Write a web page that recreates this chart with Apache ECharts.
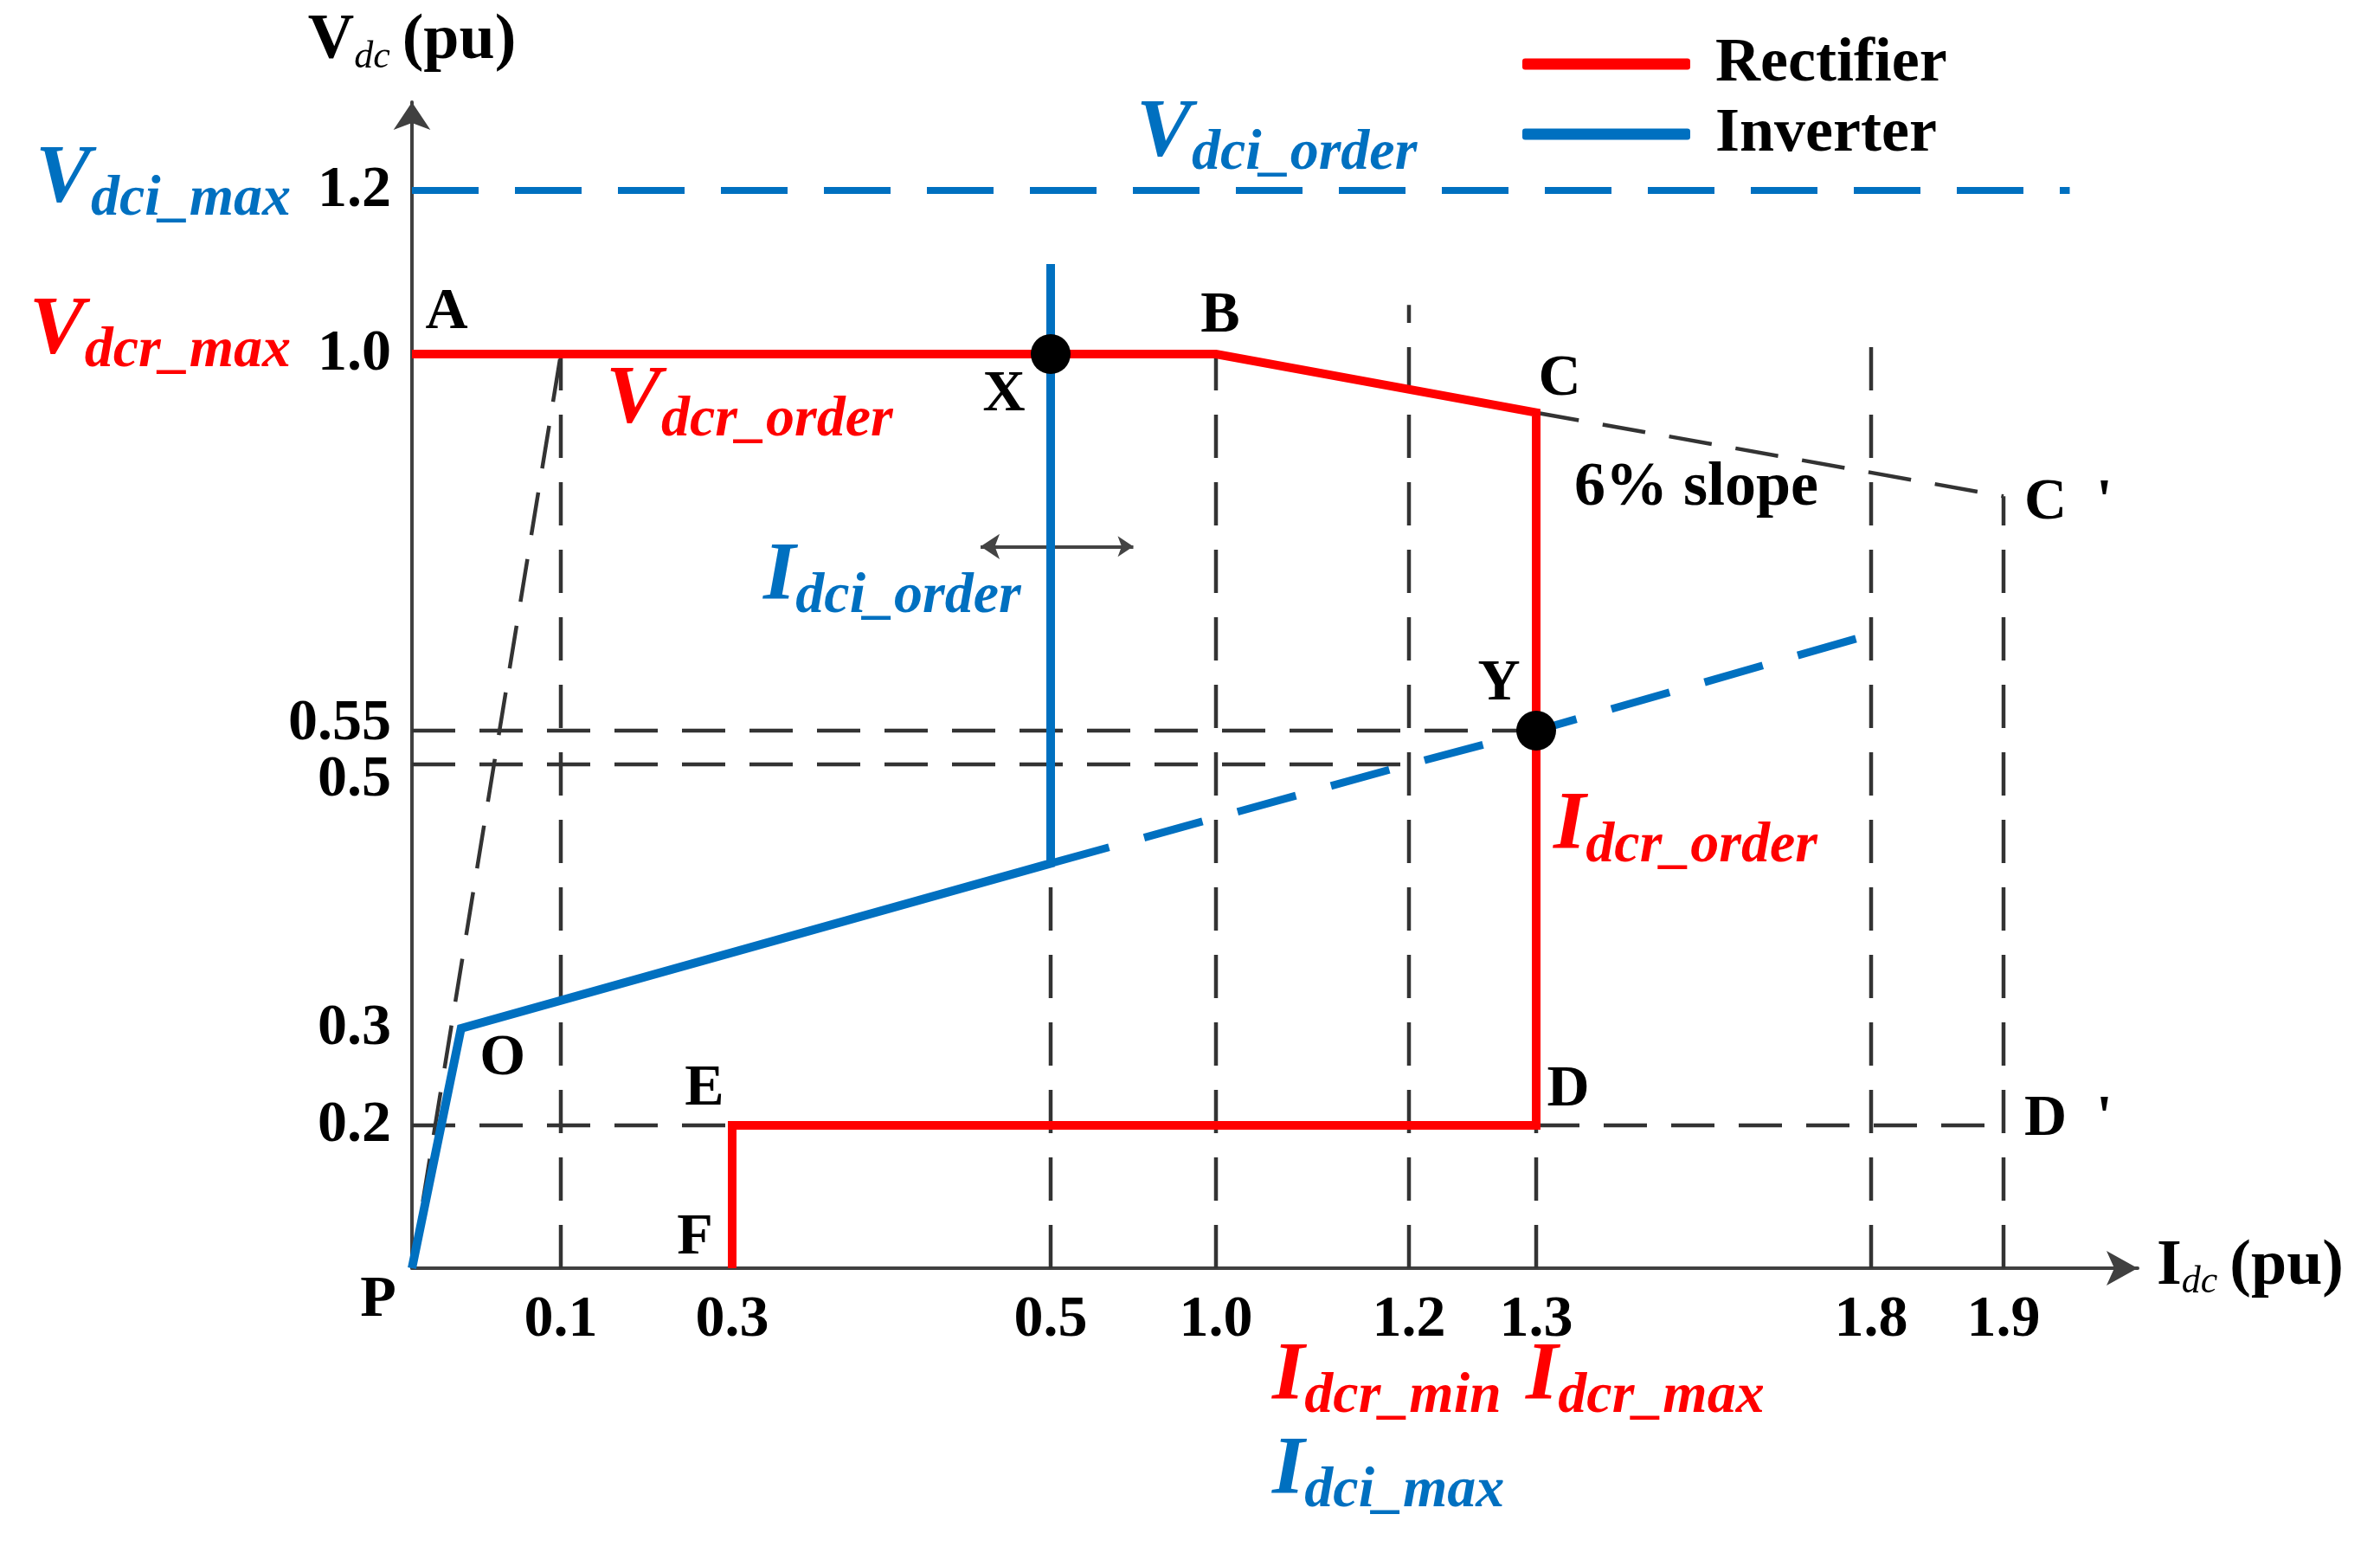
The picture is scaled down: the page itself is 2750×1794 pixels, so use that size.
<!DOCTYPE html>
<html>
<head>
<meta charset="utf-8">
<title>Vdc - Idc characteristic</title>
<script src="https://cdn.jsdelivr.net/npm/echarts@6.0.0/dist/echarts.min.js"></script>
<style>
    html, body { margin: 0; padding: 0; background: #fff; }
    #main { width: 2750px; height: 1794px; }
</style>
</head>
<body>
<div id="main"></div>
<script>
// ---- data (pu) ----
var idcTicks = [0, 0.1, 0.3, 0.5, 1.0, 1.2, 1.3, 1.8, 1.9];
var idcTickLabels = ['P', '0.1', '0.3', '0.5', '1.0', '1.2', '1.3', '1.8', '1.9'];
var vdcTicks = [0, 0.2, 0.3, 0.5, 0.55, 1.0, 1.2];
var vdcTickLabels = ['0', '0.2', '0.3', '0.5', '0.55', '1.0', '1.2'];

// rectifier A-B-C-D-E-F
var rectI = [0, 1.0, 1.3, 1.3, 0.3, 0.3];
var rectV = [1.0, 1.0, 0.93, 0.2, 0.2, 0];
// inverter P-O-knee-Idci_order
var invI = [0, 0.033, 0.5, 0.5];
var invV = [0, 0.3, 0.425, 1.11];
// inverter extension (dashed) through Y
var invDashI = [0.5, 1.2, 1.3, 1.8];
var invDashV = [0.425, 0.5, 0.55, 0.665];
// Vdci_max level
var vdciMaxI = [0, 1.95];
var vdciMaxV = [1.2, 1.2];

// black dashed guide lines [i1, v1, i2, v2]
var guides = [
    [0, 0, 0.1, 1.0],
    [0.1, 0, 0.1, 1.0],
    [0.5, 0, 0.5, 0.425],
    [1.0, 0, 1.0, 1.0],
    [1.2, 0, 1.2, 1.06],
    [1.3, 0, 1.3, 0.2],
    [1.8, 0, 1.8, 1.01],
    [1.9, 0, 1.9, 0.83],
    [0, 0.55, 1.3, 0.55],
    [0, 0.5, 1.2, 0.5],
    [0, 0.2, 0.3, 0.2],
    [1.3, 0.2, 1.9, 0.2],
    [1.3, 0.93, 1.9, 0.83]
];

// operating points X, Y
var opI = [0.5, 1.3];
var opV = [1.0, 0.55];

// point letters
var ptNames = ['A', 'B', 'C', 'C  \'', 'X', 'Y', 'O', 'E', 'F', 'D', 'D  \'', 'P', '6% slope'];
var ptI = [0, 1.0, 1.3, 1.9, 0.5, 1.3, 0.033, 0.3, 0.3, 1.3, 1.9, 0, 1.3];
var ptV = [1.0, 1.0, 0.93, 0.83, 1.0, 0.55, 0.3, 0.2, 0, 0.2, 0.2, 0, 0.93];

// ---- layout ----
// the drawing is not to scale: distance of each tick from the origin, px
var idcTickPos = [0, 172, 370, 738, 929, 1152, 1299, 1686, 1839];
var vdcTickPos = [0, 165, 277, 582, 621, 1056, 1245];

var FONT = '"Liberation Serif", "Times New Roman", serif';
var RED = '#ff0000';
var BLUE = '#0070c0';
var GREY = '#333333';

// label offsets from their anchor point, px [dx, dy, align]
var ptOffsets = [
    [40, -48, 'center'], [5, -44, 'center'], [27, -38, 'center'], [24, 8, 'left'],
    [-54, 47, 'center'], [-43, -54, 'center'], [48, 35, 'center'], [-32, -42, 'center'],
    [-43, -35, 'center'], [37, -41, 'center'], [24, -7, 'left'], [-39, 37, 'center'],
    [44, 88, 'left']
];

// subscripted names, anchored on a (pu) point
var notes = [
    { text: '{b|V}{s|dci_order}', color: BLUE, at: [0, 1.2], off: [837, -61], align: 'left' },
    { text: '{b|V}{s|dcr_order}', color: RED, at: [0.1, 1.0], off: [52, 58], align: 'left' },
    { text: '{b|I}{s|dci_order}', color: BLUE, at: [0.5, 1.0], off: [-332, 262], align: 'left' },
    { text: '{b|I}{s|dcr_order}', color: RED, at: [1.3, 0.55], off: [20, 115], align: 'left' },
    { text: '{b|I}{s|dcr_min}', color: RED, at: [1.2, 0], off: [-158, 130], align: 'left' },
    { text: '{b|I}{s|dcr_max}', color: RED, at: [1.3, 0], off: [-12, 130], align: 'left' },
    { text: '{b|I}{s|dci_max}', color: BLUE, at: [1.2, 0], off: [-158, 239], align: 'left' },
    { text: '{b|V}{s|dci_max}', color: BLUE, at: [0, 1.2], off: [-140, -8], align: 'right' },
    { text: '{b|V}{s|dcr_max}', color: RED, at: [0, 1.0], off: [-140, -22], align: 'right' }
];

// piecewise scale of the sketch
function toAxis(v, vals, pos) {
    var n = vals.length;
    for (var i = 0; i < n - 1; i++) {
        if (v <= vals[i + 1] || i == n - 2) {
            return pos[i] + (v - vals[i]) * (pos[i + 1] - pos[i]) / (vals[i + 1] - vals[i]);
        }
    }
}
function pt(i, v) {
    return [toAxis(i, idcTicks, idcTickPos), toAxis(v, vdcTicks, vdcTickPos)];
}
function path(iArr, vArr) {
    var out = [];
    for (var k = 0; k < iArr.length; k++) out.push(pt(iArr[k], vArr[k]));
    return out;
}

var richNote = {
    b: { fontFamily: FONT, fontSize: 96, fontStyle: 'italic', fontWeight: 'bold', verticalAlign: 'bottom', padding: [0, 0, 8, 0] },
    s: { fontFamily: FONT, fontSize: 66, fontStyle: 'italic', fontWeight: 'bold', verticalAlign: 'bottom' }
};

var series = [];

// dashed guides
for (var g = 0; g < guides.length; g++) {
    series.push({
        type: 'line',
        silent: true,
        symbol: 'none',
        z: 1,
        data: [pt(guides[g][0], guides[g][1]), pt(guides[g][2], guides[g][3])],
        lineStyle: { color: GREY, width: 4.5, type: [50, 28] }
    });
}

series.push({
    type: 'line', symbol: 'none', z: 2,
    data: path(vdciMaxI, vdciMaxV),
    lineStyle: { color: BLUE, width: 8, type: [77, 42] }
});
series.push({
    type: 'line', symbol: 'none', z: 2,
    data: path(invDashI, invDashV),
    lineStyle: { color: BLUE, width: 9, type: [70, 42] }
});
series.push({
    name: 'Inverter', type: 'line', symbol: 'none', z: 3,
    data: path(invI, invV),
    itemStyle: { color: BLUE },
    lineStyle: { color: BLUE, width: 10, join: 'miter' }
});
series.push({
    name: 'Rectifier', type: 'line', symbol: 'none', z: 4,
    data: path(rectI, rectV),
    itemStyle: { color: RED },
    lineStyle: { color: RED, width: 10, join: 'miter' }
});

// the little double arrow on Idci_order
series.push({
    type: 'lines', coordinateSystem: 'cartesian2d', z: 3,
    symbol: ['arrow', 'arrow'], symbolSize: [22, 18],
    lineStyle: { color: '#444', width: 4, opacity: 1 },
    data: [{ coords: [pt(0.456, 0.77), pt(0.75, 0.77)] }]
});

// X and Y
series.push({
    type: 'scatter', z: 6, symbolSize: 46,
    itemStyle: { color: '#000', opacity: 1 },
    data: path(opI, opV)
});

// letters
var letterData = [];
for (var p = 0; p < ptNames.length; p++) {
    letterData.push({
        value: pt(ptI[p], ptV[p]),
        label: {
            show: true, position: 'inside', formatter: ptNames[p],
            offset: [ptOffsets[p][0], ptOffsets[p][1]], align: ptOffsets[p][2], verticalAlign: 'middle',
            fontFamily: FONT, fontWeight: 'bold', fontSize: p == 12 ? 72 : 68, color: '#000'
        }
    });
}
for (var n = 0; n < notes.length; n++) {
    letterData.push({
        value: pt(notes[n].at[0], notes[n].at[1]),
        label: {
            show: true, position: 'inside', formatter: notes[n].text,
            offset: notes[n].off, align: notes[n].align, verticalAlign: 'middle',
            color: notes[n].color, rich: richNote
        }
    });
}
series.push({
    type: 'scatter', z: 7, symbolSize: 0, silent: true, clip: false,
    itemStyle: { opacity: 1 },
    data: letterData
});

var nameRich = {
    v: { fontFamily: FONT, fontWeight: 'bold', fontSize: 74, color: '#000', verticalAlign: 'bottom', padding: [0, 0, 3, 0] },
    s: { fontFamily: FONT, fontStyle: 'italic', fontSize: 44, color: '#000', verticalAlign: 'bottom' },
    p: { fontFamily: FONT, fontWeight: 'bold', fontSize: 74, color: '#000', verticalAlign: 'bottom', padding: [0, 0, 3, 14] }
};

var option = {
    backgroundColor: '#fff',
    animation: false,
    grid: { left: 476, top: 118, width: 1994, height: 1347 },
    legend: {
        data: ['Rectifier', 'Inverter'],
        orient: 'vertical',
        left: 1754, top: 33,
        icon: 'roundRect',
        itemWidth: 194, itemHeight: 13, itemGap: 9,
        textStyle: { fontFamily: FONT, fontWeight: 'bold', fontSize: 72, color: '#000', lineHeight: 70, padding: [0, 0, 0, 24] }
    },
    xAxis: {
        type: 'value', min: 0, max: 1994,
        name: '{v|I}{s|dc}{p|(pu)}', nameLocation: 'end', nameGap: 22,
        nameTextStyle: { rich: nameRich },
        axisLine: { show: true, symbol: ['none', 'arrow'], symbolSize: [30, 36], lineStyle: { color: '#404040', width: 4 } },
        axisTick: { show: false },
        splitLine: { show: false },
        axisLabel: {
            customValues: idcTickPos.slice(1),
            margin: 26,
            fontFamily: FONT, fontWeight: 'bold', fontSize: 68, color: '#000',
            formatter: function (val) {
                return idcTickLabels[idcTickPos.indexOf(val)];
            }
        }
    },
    yAxis: {
        type: 'value', min: 0, max: 1347,
        name: '{v|V}{s|dc}{p|(pu)}', nameLocation: 'end', nameGap: 30,
        nameTextStyle: { rich: nameRich },
        axisLine: { show: true, symbol: ['none', 'arrow'], symbolSize: [32, 32], lineStyle: { color: '#404040', width: 4 } },
        axisTick: { show: false },
        splitLine: { show: false },
        axisLabel: {
            customValues: vdcTickPos.slice(1),
            margin: 24,
            fontFamily: FONT, fontWeight: 'bold', fontSize: 68, color: '#000',
            formatter: function (val) {
                var s = vdcTickLabels[vdcTickPos.indexOf(val)];
                // 0.55 and 0.5 are pushed apart so they do not overlap
                if (s == '0.55') return '{up|' + s + '}';
                if (s == '0.5') return '{dn|' + s + '}';
                return s;
            },
            rich: {
                up: { fontFamily: FONT, fontWeight: 'bold', fontSize: 68, color: '#000', padding: [0, 0, 16, 0] },
                dn: { fontFamily: FONT, fontWeight: 'bold', fontSize: 68, color: '#000', padding: [36, 0, 0, 0] }
            }
        }
    },
    series: series
};

var myChart = echarts.init(document.getElementById('main'));
myChart.setOption(option);
</script>
</body>
</html>
